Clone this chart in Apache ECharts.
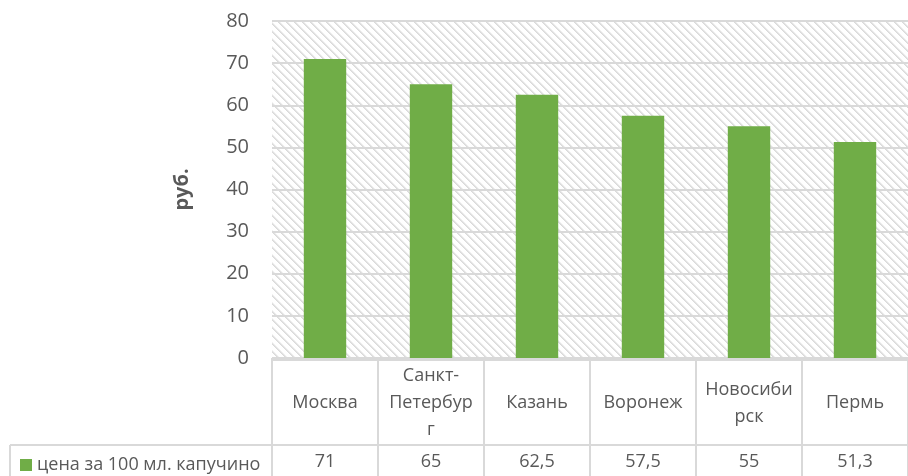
<!DOCTYPE html>
<html><head><meta charset="utf-8">
<script src="https://cdn.jsdelivr.net/npm/echarts@6/dist/echarts.min.js"></script>
<style>html,body{margin:0;padding:0;background:#fff}#c{width:908px;height:476px}</style>
</head><body><div id="c"></div>
<script>
const categories = ['Москва', 'Санкт-\nПетербур\nг', 'Казань', 'Воронеж', 'Новосиби\nрск', 'Пермь'];
const values = [71, 65, 62.5, 57.5, 55, 51.3];
const seriesName = 'цена за 100 мл. капучино';
const yTicks = { min: 0, max: 80, interval: 10 };
const yName = 'руб.';

const FONT = 'Open Sans';
const TXT = '#595959';
const LINE = '#D9D9D9';

// hatch pattern
const pc = document.createElement('canvas');
pc.width = 8; pc.height = 8;
const ctx = pc.getContext('2d');
const img = ctx.createImageData(8, 8);
for (let y = 0; y < 8; y++) for (let x = 0; x < 8; x++) {
  const d = ((x - y) % 8 + 8) % 8;
  let v = 255;
  if (d === 0) v = 218; else if (d === 1) v = 226; else if (d === 2) v = 242;
  const i = (y * 8 + x) * 4;
  img.data[i] = v; img.data[i+1] = v; img.data[i+2] = v; img.data[i+3] = 255;
}
ctx.putImageData(img, 0, 0);

const chart = echarts.init(document.getElementById('c'), null, { renderer: 'canvas' });
const L = 272, T = 21, B = 358;
chart.setOption({
  animation: false,
  backgroundColor: '#fff',
  grid: { left: L, right: -12, top: T, bottom: 476 - B, show: true, borderWidth: 0,
          backgroundColor: { image: pc, repeat: 'repeat' } },
  legend: { left: 15, top: 451, icon: 'rect', itemWidth: 12, itemHeight: 12, itemGap: 10,
            textStyle: { fontFamily: FONT, fontSize: 18, color: TXT }, data: [seriesName] },
  xAxis: [{
    type: 'category', data: categories, position: 'bottom',
    axisLine: { show: false },
    axisTick: { show: true, length: 118, lineStyle: { color: LINE, width: 2 } },
    axisLabel: { margin: 45, verticalAlign: 'middle', fontFamily: FONT, fontSize: 18, color: TXT, lineHeight: 27, interval: 0 }
  }, {
    type: 'category', data: categories, position: 'bottom',
    axisLine: { show: false }, axisTick: { show: false },
    axisLabel: { margin: 104, verticalAlign: 'middle', fontFamily: FONT, fontSize: 18, color: TXT, interval: 0,
      formatter: (v, i) => String(values[i]).replace('.', ',') }
  }],
  yAxis: {
    type: 'value', min: yTicks.min, max: yTicks.max, interval: yTicks.interval,
    name: yName, nameLocation: 'middle', nameRotate: 90, nameGap: 80,
    nameTextStyle: { fontFamily: FONT, fontSize: 20, fontWeight: 'bold', color: TXT },
    axisLine: { show: false }, axisTick: { show: false },
    axisLabel: { margin: 23, fontFamily: FONT, fontSize: 20, color: TXT },
    splitLine: { lineStyle: { color: LINE, width: 2 } }
  },
  series: [{
    name: seriesName, type: 'bar', data: values, barWidth: '40%',
    itemStyle: { color: '#70AD47' }
  }],
  graphic: [
    { type: 'line', shape: { x1: L, y1: 360, x2: 908, y2: 360 }, style: { stroke: LINE, lineWidth: 2 } },
    { type: 'line', shape: { x1: 10, y1: 445, x2: 908, y2: 445 }, style: { stroke: LINE, lineWidth: 2 } },
    { type: 'line', shape: { x1: 10, y1: 445, x2: 10, y2: 476 }, style: { stroke: LINE, lineWidth: 2 } }
  ]
});
</script></body></html>
